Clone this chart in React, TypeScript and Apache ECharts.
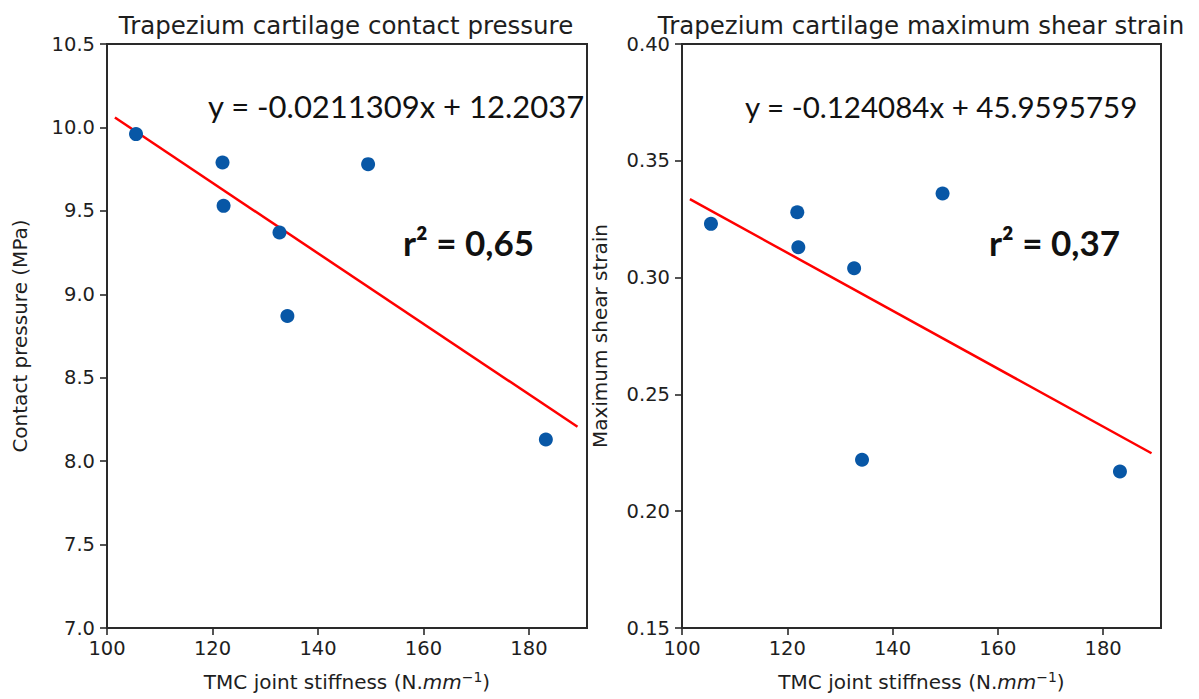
import React, { useEffect, useRef } from "react";
import * as echarts from "echarts";

// ---- Data ----
const stiffness = [105.5, 121.9, 122.1, 132.7, 134.2, 149.5, 183.2];
const contactPressure = [9.96, 9.79, 9.53, 9.37, 8.87, 9.78, 8.13];
const shearStrain = [0.323, 0.328, 0.313, 0.304, 0.222, 0.336, 0.217];

// regression line end points
const fitX = [101.5, 189.2];
const fitPressure = [10.059, 8.206];
const fitStrain = [0.3336, 0.2248];

const xTicks = [100, 120, 140, 160, 180];
const yTicksPressure = [7.0, 7.5, 8.0, 8.5, 9.0, 9.5, 10.0, 10.5];
const yTicksStrain = [0.15, 0.2, 0.25, 0.3, 0.35, 0.4];

const titles = [
  "Trapezium cartilage contact pressure",
  "Trapezium cartilage maximum shear strain",
];
const equations = ["y = -0.0211309x + 12.2037", "y = -0.124084x + 45.9595759"];
const r2Labels = ["r\u00B2 = 0,65", "r\u00B2 = 0,37"];
const yNames = ["Contact pressure (MPa)", "Maximum shear strain"];
const xName = "TMC joint stiffness (N.{it|mm}{sup|\u22121})";

const FONT = "DejaVu Sans";
const TXT = "#1e1e1e";
const SPINE = "#2a2a2a";
const DOT = "#0857a6";

const grids = [
  { left: 107, top: 44, width: 480, height: 584 },
  { left: 682, top: 44, width: 479, height: 584 },
];

function xAxisFor(i: number) {
  return {
    type: "value",
    gridIndex: i,
    min: 100,
    max: 191,
    splitLine: { show: false },
    axisLine: { show: true, onZero: false, lineStyle: { color: SPINE, width: 2 } },
    axisTick: { show: true, length: 7, customValues: xTicks, lineStyle: { color: SPINE, width: 1.6 } },
    axisLabel: {
      customValues: xTicks,
      fontSize: 19.5,
      fontFamily: FONT,
      color: TXT,
      margin: 10,
    },
    name: xName,
    nameLocation: "middle",
    nameGap: 42,
    nameTextStyle: {
      fontSize: 20,
      fontFamily: FONT,
      color: TXT,
      lineHeight: 24,
      rich: {
        it: { fontSize: 20, fontFamily: FONT, fontStyle: "italic", color: TXT, lineHeight: 24 },
        sup: { fontSize: 14, fontFamily: FONT, color: TXT, verticalAlign: "top", lineHeight: 14 },
      },
    },
  };
}

function yAxisFor(i: number, min: number, max: number, ticks: number[], dec: number, gap: number) {
  return {
    type: "value",
    gridIndex: i,
    min,
    max,
    splitLine: { show: false },
    axisLine: { show: true, onZero: false, lineStyle: { color: SPINE, width: 2 } },
    axisTick: { show: true, length: 7, customValues: ticks, lineStyle: { color: SPINE, width: 1.6 } },
    axisLabel: {
      customValues: ticks,
      fontSize: 19.5,
      fontFamily: FONT,
      color: TXT,
      margin: 12,
      formatter: (v: number) => v.toFixed(dec),
    },
    name: yNames[i],
    nameLocation: "middle",
    nameGap: gap,
    nameTextStyle: { fontSize: 20, fontFamily: FONT, color: TXT },
  };
}

export default function App() {
  const ref = useRef<HTMLDivElement>(null);
  useEffect(() => {
    if (!ref.current) return;
    const chart = echarts.init(ref.current, null, { renderer: "svg" });
    const pts1 = stiffness.map((x, k) => [x, contactPressure[k]]);
    const pts2 = stiffness.map((x, k) => [x, shearStrain[k]]);
    const line1 = fitX.map((x, k) => [x, fitPressure[k]]);
    const line2 = fitX.map((x, k) => [x, fitStrain[k]]);

    const option: any = {
      animation: false,
      backgroundColor: "#fff",
      grid: grids.map((g) => ({
        ...g,
        show: true,
        borderColor: SPINE,
        borderWidth: 2,
        backgroundColor: "transparent",
        containLabel: false,
      })),
      xAxis: [xAxisFor(0), xAxisFor(1)],
      yAxis: [
        yAxisFor(0, 7.0, 10.5, yTicksPressure, 1, 77),
        yAxisFor(1, 0.15, 0.4, yTicksStrain, 2, 72),
      ],
      series: [
        {
          type: "line",
          xAxisIndex: 0,
          yAxisIndex: 0,
          data: line1,
          showSymbol: false,
          lineStyle: { color: "#ff0000", width: 2.5 },
          z: 2,
        },
        {
          type: "scatter",
          xAxisIndex: 0,
          yAxisIndex: 0,
          data: pts1,
          symbolSize: 14,
          itemStyle: { color: DOT, opacity: 1 },
          z: 3,
        },
        {
          type: "line",
          xAxisIndex: 1,
          yAxisIndex: 1,
          data: line2,
          showSymbol: false,
          lineStyle: { color: "#ff0000", width: 2.5 },
          z: 2,
        },
        {
          type: "scatter",
          xAxisIndex: 1,
          yAxisIndex: 1,
          data: pts2,
          symbolSize: 14,
          itemStyle: { color: DOT, opacity: 1 },
          z: 3,
        },
      ],
      graphic: [
        {
          type: "text",
          x: 346,
          y: 25,
          style: { text: titles[0], fontSize: 24.5, fontFamily: FONT, fill: TXT, align: "center", verticalAlign: "middle" },
        },
        {
          type: "text",
          x: 921,
          y: 25,
          style: { text: titles[1], fontSize: 24.5, fontFamily: FONT, fill: TXT, align: "center", verticalAlign: "middle" },
        },
        {
          type: "text",
          x: 208,
          y: 106,
          style: { text: equations[0], fontSize: 31, fontFamily: "Lato", fill: "#111", align: "left", verticalAlign: "middle" },
        },
        {
          type: "text",
          x: 745,
          y: 106,
          style: { text: equations[1], fontSize: 29.5, fontFamily: "Lato", fill: "#111", align: "left", verticalAlign: "middle" },
        },
        {
          type: "text",
          x: 403,
          y: 242,
          style: { text: r2Labels[0], fontSize: 35, fontWeight: "bold", fontFamily: "Lato", fill: "#111", align: "left", verticalAlign: "middle" },
        },
        {
          type: "text",
          x: 989,
          y: 242,
          style: { text: r2Labels[1], fontSize: 35, fontWeight: "bold", fontFamily: "Lato", fill: "#111", align: "left", verticalAlign: "middle" },
        },
      ],
    };
    chart.setOption(option);
    return () => chart.dispose();
  }, []);
  return (
    <div
      ref={ref}
      style={{ position: "absolute", left: 0, top: 0, width: 1199, height: 699, background: "#fff" }}
    />
  );
}
